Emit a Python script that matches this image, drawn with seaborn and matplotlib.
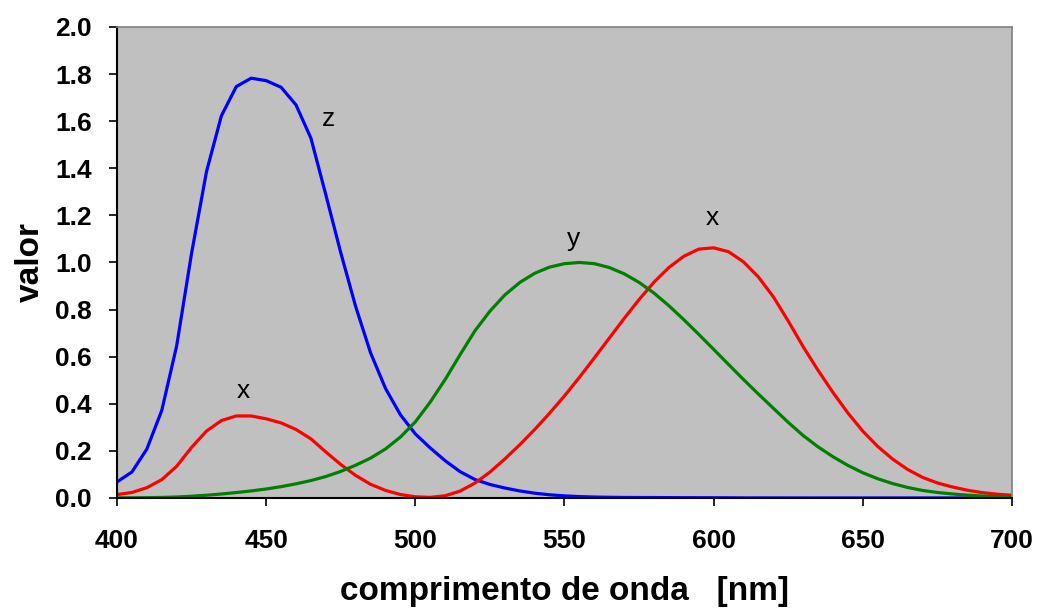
import matplotlib
matplotlib.use("Agg")
import matplotlib.pyplot as plt
import seaborn as sns
import pandas as pd

# comprimento de onda (nm), passo de 5 nm
wavelength = list(range(400, 705, 5))

x_bar = [0.0143, 0.0232, 0.0435, 0.0776, 0.1344, 0.2148, 0.2839, 0.3285, 0.3483, 0.3481,
         0.3362, 0.3187, 0.2908, 0.2511, 0.1954, 0.1421, 0.0956, 0.0580, 0.0320, 0.0147,
         0.0049, 0.0024, 0.0093, 0.0291, 0.0633, 0.1096, 0.1655, 0.2257, 0.2904, 0.3597,
         0.4334, 0.5121, 0.5945, 0.6784, 0.7621, 0.8425, 0.9163, 0.9786, 1.0263, 1.0567,
         1.0622, 1.0456, 1.0026, 0.9384, 0.8544, 0.7514, 0.6424, 0.5419, 0.4479, 0.3608,
         0.2835, 0.2187, 0.1649, 0.1212, 0.0874, 0.0636, 0.0468, 0.0329, 0.0227, 0.0158,
         0.0114]

y_bar = [0.0004, 0.0006, 0.0012, 0.0022, 0.0040, 0.0073, 0.0116, 0.0168, 0.0230, 0.0298,
         0.0380, 0.0480, 0.0600, 0.0739, 0.0910, 0.1126, 0.1390, 0.1693, 0.2080, 0.2586,
         0.3230, 0.4073, 0.5030, 0.6082, 0.7100, 0.7932, 0.8620, 0.9149, 0.9540, 0.9803,
         0.9950, 1.0000, 0.9950, 0.9786, 0.9520, 0.9154, 0.8700, 0.8163, 0.7570, 0.6949,
         0.6310, 0.5668, 0.5030, 0.4412, 0.3810, 0.3210, 0.2650, 0.2170, 0.1750, 0.1382,
         0.1070, 0.0816, 0.0610, 0.0446, 0.0320, 0.0232, 0.0170, 0.0119, 0.0082, 0.0057,
         0.0041]

z_bar = [0.0679, 0.1102, 0.2074, 0.3713, 0.6456, 1.0391, 1.3856, 1.6230, 1.7471, 1.7826,
         1.7721, 1.7441, 1.6692, 1.5281, 1.2876, 1.0419, 0.8130, 0.6162, 0.4652, 0.3533,
         0.2720, 0.2123, 0.1582, 0.1117, 0.0783, 0.0573, 0.0422, 0.0298, 0.0203, 0.0134,
         0.0088, 0.0058, 0.0039, 0.0028, 0.0021, 0.0018, 0.0017, 0.0014, 0.0011, 0.0010,
         0.0008, 0.0006, 0.0003, 0.0002, 0.0002, 0.0001, 0.0001, 0.0000, 0.0000, 0.0000,
         0.0000, 0.0000, 0.0000, 0.0000, 0.0000, 0.0000, 0.0000, 0.0000, 0.0000, 0.0000,
         0.0000]

# rótulos das curvas: (texto, nm, valor)
labels = [("z", 471, 1.61), ("x", 442.5, 0.455), ("y", 553, 1.10), ("x", 599.5, 1.19)]

df = pd.DataFrame({"nm": wavelength * 3,
                   "valor": x_bar + y_bar + z_bar,
                   "curva": ["x"] * len(x_bar) + ["y"] * len(y_bar) + ["z"] * len(z_bar)})

sns.set_style("ticks")
plt.rcParams['font.family'] = ['Liberation Sans', 'DejaVu Sans']
plt.rcParams['text.color'] = 'black'
plt.rcParams['axes.labelcolor'] = 'black'

fig = plt.figure(figsize=(10.39, 6.08), dpi=100)
ax = fig.add_axes([0.1126, 0.181, 0.8614, 0.7746])
ax.set_facecolor("#c0c0c0")

sns.lineplot(data=df, x="nm", y="valor", hue="curva", hue_order=["z", "x", "y"],
             palette={"x": "#ff0000", "y": "#008000", "z": "#0000ff"},
             linewidth=2.3, legend=False, ax=ax)

for txt, nm, v in labels:
    ax.text(nm, v, txt, fontsize=19, ha="center", va="center", color="black")

ax.set_xlim(400, 700)
ax.set_ylim(0, 2.0)
ax.set_xticks(range(400, 701, 50))
ax.set_yticks([i / 10 for i in range(0, 21, 2)])
ax.set_yticklabels([f"{i / 10:.1f}" for i in range(0, 21, 2)])
ax.tick_params(axis="both", direction="out", length=6, width=1.2, labelsize=19,
               colors="black", labelcolor="black")
for lab in ax.get_xticklabels() + ax.get_yticklabels():
    lab.set_fontweight("bold")
ax.tick_params(axis="x", pad=16)
ax.tick_params(axis="y", pad=12)

ax.set_xlabel("comprimento de onda   [nm]", fontsize=24, fontweight="bold", labelpad=17)
ax.set_ylabel("valor", fontsize=24, fontweight="bold", labelpad=7)

for side in ["top", "right"]:
    ax.spines[side].set_color("#808080")
    ax.spines[side].set_linewidth(1.2)
for side in ["left", "bottom"]:
    ax.spines[side].set_color("black")
    ax.spines[side].set_linewidth(1.5)

fig.savefig("out.png", dpi=100)
